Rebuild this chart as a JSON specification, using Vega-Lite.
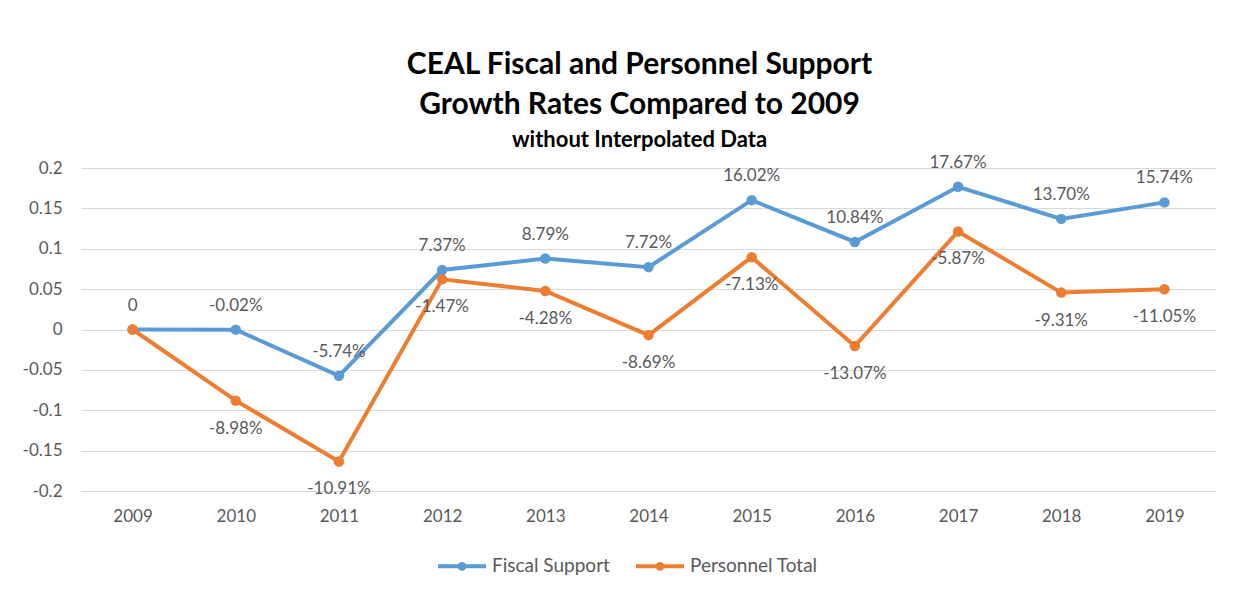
{
  "$schema": "https://vega.github.io/schema/vega-lite/v6.json",
  "width": 1135,
  "height": 323,
  "autosize": {"type": "none"},
  "padding": {"left": 81, "top": 168, "right": 23, "bottom": 107},
  "background": "white",
  "title": {
    "text": ["CEAL Fiscal and Personnel Support", "Growth Rates Compared to 2009"],
    "subtitle": "without Interpolated Data",
    "font": "Lato",
    "fontSize": 30,
    "fontWeight": "bold",
    "color": "#000000",
    "lineHeight": 40,
    "subtitleFont": "Lato",
    "subtitleFontSize": 22,
    "subtitleFontWeight": "bold",
    "subtitleColor": "#000000",
    "subtitlePadding": 10,
    "anchor": "middle",
    "frame": "group",
    "dx": -9,
    "offset": 3
  },
  "config": {"view": {"stroke": null}, "font": "Lato"},
  "data": {
    "values": [
      {"year": "2009", "series": "Fiscal Support", "value": 0, "label": "0"},
      {"year": "2010", "series": "Fiscal Support", "value": -0.0002, "label": "-0.02%"},
      {"year": "2011", "series": "Fiscal Support", "value": -0.0574, "label": "-5.74%"},
      {"year": "2012", "series": "Fiscal Support", "value": 0.0737, "label": "7.37%"},
      {"year": "2013", "series": "Fiscal Support", "value": 0.0879, "label": "8.79%"},
      {"year": "2014", "series": "Fiscal Support", "value": 0.0772, "label": "7.72%"},
      {"year": "2015", "series": "Fiscal Support", "value": 0.1602, "label": "16.02%"},
      {"year": "2016", "series": "Fiscal Support", "value": 0.1084, "label": "10.84%"},
      {"year": "2017", "series": "Fiscal Support", "value": 0.1767, "label": "17.67%"},
      {"year": "2018", "series": "Fiscal Support", "value": 0.1370, "label": "13.70%"},
      {"year": "2019", "series": "Fiscal Support", "value": 0.1574, "label": "15.74%"},
      {"year": "2009", "series": "Personnel Total", "value": 0, "label": "0"},
      {"year": "2010", "series": "Personnel Total", "value": -0.0881, "label": "-8.98%"},
      {"year": "2011", "series": "Personnel Total", "value": -0.1634, "label": "-10.91%"},
      {"year": "2012", "series": "Personnel Total", "value": 0.0621, "label": "-1.47%"},
      {"year": "2013", "series": "Personnel Total", "value": 0.0477, "label": "-4.28%"},
      {"year": "2014", "series": "Personnel Total", "value": -0.0070, "label": "-8.69%"},
      {"year": "2015", "series": "Personnel Total", "value": 0.0896, "label": "-7.13%"},
      {"year": "2016", "series": "Personnel Total", "value": -0.0205, "label": "-13.07%"},
      {"year": "2017", "series": "Personnel Total", "value": 0.1214, "label": "-5.87%"},
      {"year": "2018", "series": "Personnel Total", "value": 0.0457, "label": "-9.31%"},
      {"year": "2019", "series": "Personnel Total", "value": 0.0498, "label": "-11.05%"}
    ]
  },
  "encoding": {
    "x": {
      "field": "year",
      "type": "ordinal",
      "scale": {"type": "point", "padding": 0.5},
      "axis": {
        "title": null,
        "domain": false,
        "ticks": false,
        "grid": false,
        "labelAngle": 0,
        "labelPadding": 17,
        "labelFontSize": 17,
        "labelColor": "#595959",
        "labelFont": "Lato"
      }
    },
    "y": {
      "field": "value",
      "type": "quantitative",
      "scale": {"domain": [-0.2, 0.2], "nice": false, "zero": false},
      "axis": {
        "title": null,
        "values": [-0.2, -0.15, -0.1, -0.05, 0, 0.05, 0.1, 0.15, 0.2],
        "labelExpr": "'' + datum.value",
        "domain": false,
        "ticks": false,
        "grid": true,
        "gridColor": "#D9D9D9",
        "gridWidth": 1,
        "labelPadding": 19,
        "labelFontSize": 17,
        "labelColor": "#595959",
        "labelFont": "Lato"
      }
    }
  },
  "layer": [
    {
      "mark": {"type": "line", "strokeWidth": 4, "point": {"size": 110, "filled": true}},
      "encoding": {
        "color": {
          "field": "series",
          "type": "nominal",
          "scale": {"domain": ["Fiscal Support", "Personnel Total"], "range": ["#5B9BD5", "#ED7D31"]},
          "legend": {
            "title": null,
            "orient": "none",
            "direction": "horizontal",
            "legendX": 355,
            "legendY": 372,
            "padding": 0,
            "symbolType": "M-1,0L1,0M0.1,0A0.1,0.1 0 1,1 -0.1,0A0.1,0.1 0 1,1 0.1,0",
            "symbolSize": 2304,
            "symbolStrokeWidth": 4,
            "labelFontSize": 19,
            "labelColor": "#595959",
            "labelFont": "Lato",
            "labelOffset": 4,
            "columnPadding": 18
          }
        }
      }
    },
    {
      "transform": [{"filter": "datum.series === 'Fiscal Support'"}],
      "mark": {"type": "text", "dy": -24, "fontSize": 17, "color": "#595959", "font": "Lato", "baseline": "middle"},
      "encoding": {"text": {"field": "label"}}
    },
    {
      "transform": [{"filter": "datum.series === 'Personnel Total' && datum.year !== '2009'"}],
      "mark": {"type": "text", "dy": 28, "fontSize": 17, "color": "#595959", "font": "Lato", "baseline": "middle"},
      "encoding": {"text": {"field": "label"}}
    }
  ]
}
